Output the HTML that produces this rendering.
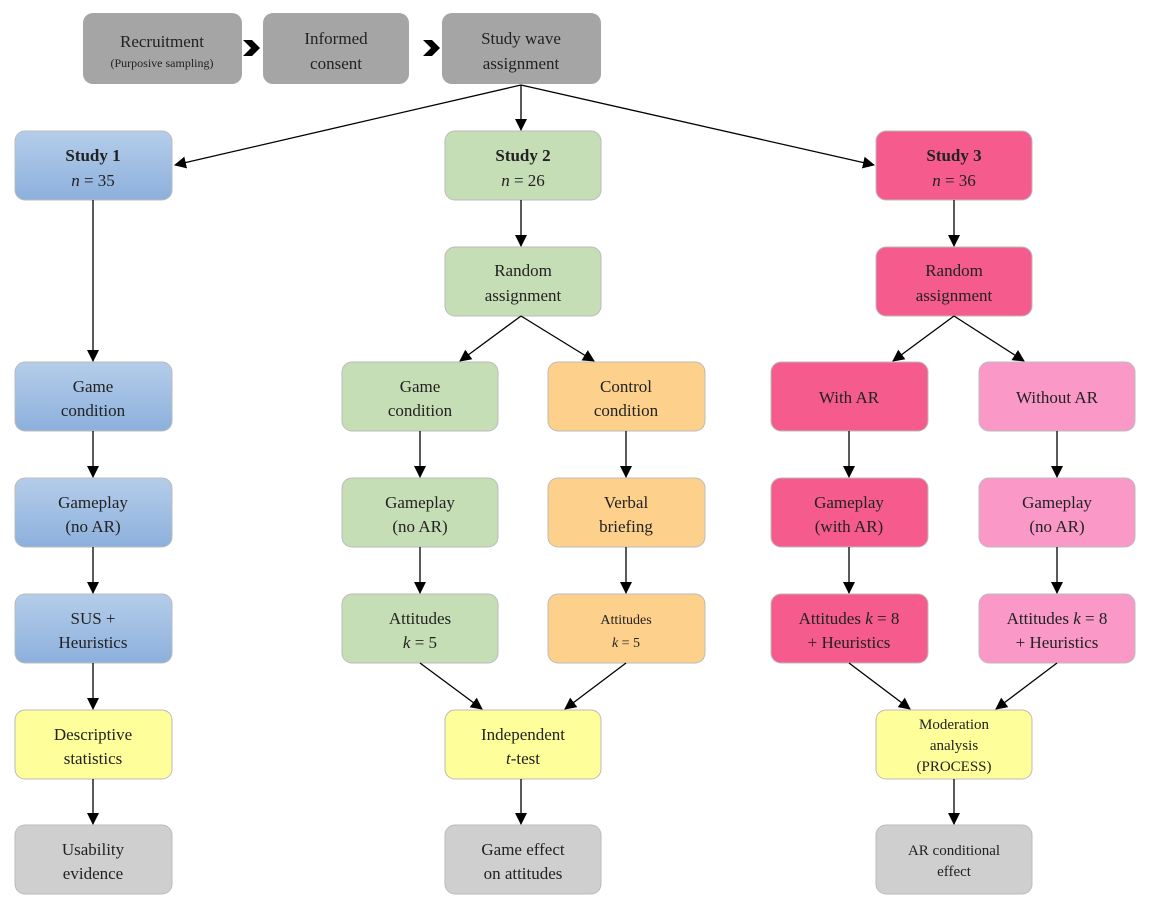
<!DOCTYPE html>
<html><head><meta charset="utf-8"><style>
body{margin:0;background:#fff}
svg text{font-family:"Liberation Serif",serif;font-size:17px;fill:#222;text-anchor:middle}
</style></head><body>
<svg width="1151" height="906" viewBox="0 0 1151 906" xmlns="http://www.w3.org/2000/svg">
<defs>
<marker id="a" markerWidth="12" markerHeight="12" refX="11" refY="6" orient="auto" markerUnits="userSpaceOnUse"><path d="M0,0 L12,6 L0,12 z" fill="#000"/></marker>
<linearGradient id="bl" x1="0" y1="0" x2="0" y2="1"><stop offset="0" stop-color="#b5cdea"/><stop offset="1" stop-color="#8cb0dc"/></linearGradient>
</defs>
<g stroke="#bbb" stroke-width="1">
<rect x="83" y="13" width="159" height="71" rx="10" fill="#a5a5a5" stroke="none"/>
<rect x="263" y="13" width="146" height="71" rx="10" fill="#a5a5a5" stroke="none"/>
<rect x="442" y="13" width="159" height="71" rx="10" fill="#a5a5a5" stroke="none"/>
<rect x="15" y="131" width="157" height="69" rx="10" fill="url(#bl)"/>
<rect x="445" y="131" width="156" height="69" rx="10" fill="#c6deb5"/>
<rect x="876" y="131" width="156" height="69" rx="10" fill="#f55c8d"/>
<rect x="445" y="247" width="156" height="69" rx="10" fill="#c6deb5"/>
<rect x="876" y="247" width="156" height="69" rx="10" fill="#f55c8d"/>
<rect x="15" y="362" width="157" height="69" rx="10" fill="url(#bl)"/>
<rect x="342" y="362" width="156" height="69" rx="10" fill="#c6deb5"/>
<rect x="548" y="362" width="157" height="69" rx="10" fill="#fdd08b"/>
<rect x="771" y="362" width="157" height="69" rx="10" fill="#f55c8d"/>
<rect x="979" y="362" width="156" height="69" rx="10" fill="#fa98c8"/>
<rect x="15" y="478" width="157" height="69" rx="10" fill="url(#bl)"/>
<rect x="342" y="478" width="156" height="69" rx="10" fill="#c6deb5"/>
<rect x="548" y="478" width="157" height="69" rx="10" fill="#fdd08b"/>
<rect x="771" y="478" width="157" height="69" rx="10" fill="#f55c8d"/>
<rect x="979" y="478" width="156" height="69" rx="10" fill="#fa98c8"/>
<rect x="15" y="594" width="157" height="69" rx="10" fill="url(#bl)"/>
<rect x="342" y="594" width="156" height="69" rx="10" fill="#c6deb5"/>
<rect x="548" y="594" width="157" height="69" rx="10" fill="#fdd08b"/>
<rect x="771" y="594" width="157" height="69" rx="10" fill="#f55c8d"/>
<rect x="979" y="594" width="156" height="69" rx="10" fill="#fa98c8"/>
<rect x="15" y="710" width="157" height="69" rx="10" fill="#fefe9a"/>
<rect x="445" y="710" width="156" height="69" rx="10" fill="#fefe9a"/>
<rect x="876" y="710" width="156" height="69" rx="10" fill="#fefe9a"/>
<rect x="15" y="825" width="157" height="69" rx="10" fill="#cfcfcf"/>
<rect x="445" y="825" width="156" height="69" rx="10" fill="#cfcfcf"/>
<rect x="876" y="825" width="156" height="69" rx="10" fill="#cfcfcf"/>
</g>
<path d="M243,40 L252,40 L260,48 L252,56 L243,56 L251,48z" fill="#000"/>
<path d="M423,40 L432,40 L440,48 L432,56 L423,56 L431,48z" fill="#000"/>
<g stroke="#000" stroke-width="1.3" fill="none" marker-end="url(#a)">
<line x1="521" y1="85" x2="175" y2="165"/>
<line x1="521" y1="85" x2="521" y2="130"/>
<line x1="521" y1="85" x2="874" y2="165"/>
<line x1="93" y1="200" x2="93" y2="361"/>
<line x1="93" y1="431" x2="93" y2="477"/>
<line x1="93" y1="547" x2="93" y2="593"/>
<line x1="93" y1="663" x2="93" y2="709"/>
<line x1="93" y1="779" x2="93" y2="824"/>
<line x1="521" y1="200" x2="521" y2="246"/>
<line x1="521" y1="316" x2="460" y2="361"/>
<line x1="521" y1="316" x2="594" y2="361"/>
<line x1="420" y1="431" x2="420" y2="477"/>
<line x1="626" y1="431" x2="626" y2="477"/>
<line x1="420" y1="547" x2="420" y2="593"/>
<line x1="626" y1="547" x2="626" y2="593"/>
<line x1="420" y1="663" x2="482" y2="709"/>
<line x1="626" y1="663" x2="565" y2="709"/>
<line x1="521" y1="779" x2="521" y2="824"/>
<line x1="954" y1="200" x2="954" y2="246"/>
<line x1="954" y1="316" x2="893" y2="361"/>
<line x1="954" y1="316" x2="1024" y2="361"/>
<line x1="849" y1="431" x2="849" y2="477"/>
<line x1="1057" y1="431" x2="1057" y2="477"/>
<line x1="849" y1="547" x2="849" y2="593"/>
<line x1="1057" y1="547" x2="1057" y2="593"/>
<line x1="849" y1="663" x2="910" y2="709"/>
<line x1="1057" y1="663" x2="996" y2="709"/>
<line x1="954" y1="779" x2="954" y2="824"/>
</g>
<text x="162" y="47">Recruitment</text>
<text x="162" y="67" style="font-size:12px">(Purposive sampling)</text>
<text x="336" y="44">Informed</text><text x="336" y="69">consent</text>
<text x="521" y="44">Study wave</text><text x="521" y="69">assignment</text>
<text x="93" y="161" font-weight="bold">Study 1</text><text x="93" y="186"><tspan font-style="italic">n</tspan> = 35</text>
<text x="523" y="161" font-weight="bold">Study 2</text><text x="523" y="186"><tspan font-style="italic">n</tspan> = 26</text>
<text x="954" y="161" font-weight="bold">Study 3</text><text x="954" y="186"><tspan font-style="italic">n</tspan> = 36</text>
<text x="523" y="276">Random</text><text x="523" y="301">assignment</text>
<text x="954" y="276">Random</text><text x="954" y="301">assignment</text>
<text x="93" y="392">Game</text><text x="93" y="416">condition</text>
<text x="420" y="392">Game</text><text x="420" y="416">condition</text>
<text x="626" y="392">Control</text><text x="626" y="416">condition</text>
<text x="849" y="403">With AR</text>
<text x="1057" y="403">Without AR</text>
<text x="93" y="508">Gameplay</text><text x="93" y="532">(no AR)</text>
<text x="420" y="508">Gameplay</text><text x="420" y="532">(no AR)</text>
<text x="626" y="508">Verbal</text><text x="626" y="532">briefing</text>
<text x="849" y="508">Gameplay</text><text x="849" y="532">(with AR)</text>
<text x="1057" y="508">Gameplay</text><text x="1057" y="532">(no AR)</text>
<text x="93" y="624">SUS +</text><text x="93" y="648">Heuristics</text>
<text x="420" y="624">Attitudes</text><text x="420" y="648"><tspan font-style="italic">k</tspan> = 5</text>
<text x="626" y="624" style="font-size:14px">Attitudes</text><text x="626" y="647" style="font-size:14px"><tspan font-style="italic">k</tspan> = 5</text>
<text x="849" y="624">Attitudes <tspan font-style="italic">k</tspan> = 8</text><text x="849" y="648">+ Heuristics</text>
<text x="1057" y="624">Attitudes <tspan font-style="italic">k</tspan> = 8</text><text x="1057" y="648">+ Heuristics</text>
<text x="93" y="740">Descriptive</text><text x="93" y="764">statistics</text>
<text x="523" y="740">Independent</text><text x="523" y="764"><tspan font-style="italic">t</tspan>-test</text>
<text x="954" y="729" style="font-size:15px">Moderation</text><text x="954" y="750" style="font-size:15px">analysis</text><text x="954" y="771" style="font-size:15px">(PROCESS)</text>
<text x="93" y="855">Usability</text><text x="93" y="879">evidence</text>
<text x="523" y="855">Game effect</text><text x="523" y="879">on attitudes</text>
<text x="954" y="855" style="font-size:15px">AR conditional</text><text x="954" y="876" style="font-size:15px">effect</text>
</svg>
</body></html>
